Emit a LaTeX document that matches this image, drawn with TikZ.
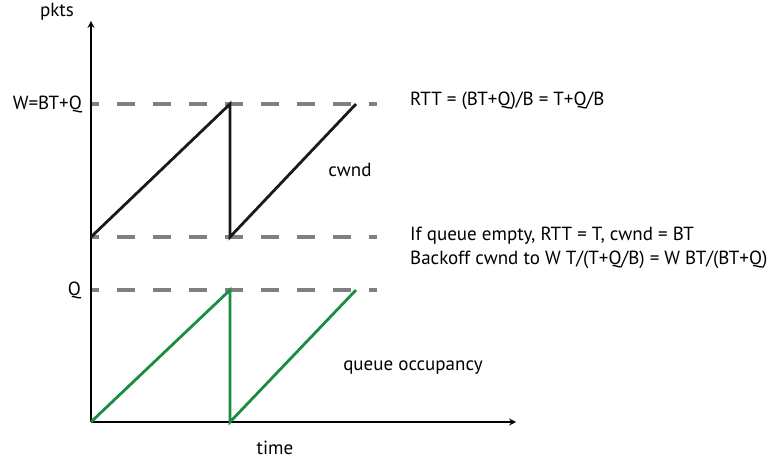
\documentclass[tikz,border=0pt]{standalone}
\usepackage{fontspec}
\setmainfont{PT Sans}
\definecolor{qgreen}{RGB}{28,140,68}
\begin{document}
\begin{tikzpicture}[x=1pt, y=1pt, >=stealth,
		lbl/.style={font=\fontsize{19}{22}\selectfont, inner sep=0pt},
		level/.style={gray, line width=3.2pt, dash pattern=on 18pt off 18pt, dash phase=10pt},
		win/.style={black!90, line width=2.8pt},
		que/.style={qgreen, line width=2.8pt}]
			\useasboundingbox (0,0) rectangle (780,461);
			\coordinate (o) at (91,39);
			\coordinate (ytop) at (91,440);
			\coordinate (xend) at (516,39);
			\foreach \n/\y in {w/357, b/224, q/171}
				{
					\coordinate (\n0) at (91,\y);
					\coordinate (\n1) at (377,\y);
					\draw[level] (\n0) -- (\n1);
				}
			\draw[->, line width=2pt] (o) -- (ytop);
			\draw[->, line width=2pt] (o) -- (xend);
			\coordinate (c1) at (230,357);
			\coordinate (c2) at (230,224);
			\coordinate (c3) at (356,357);
			\draw[win] (b0) -- (c1) -- (c2) -- (c3);
			\coordinate (g1) at (230,171);
			\coordinate (g2) at (230,39);
			\coordinate (g3) at (356,171);
			\draw[que] (o) -- (g1) -- (g2) -- (g3);
			\node[lbl] (pkts) at (57,449) {pkts};
			\node[lbl, anchor=east] (wlab) at (82,357) {W=BT+Q};
			\node[lbl, anchor=east] (qlab) at (81,171) {Q};
			\node[lbl] (time) at (275,13) {time};
			\node[lbl] (cwnd) at (350,291) {cwnd};
			\node[lbl] (occ) at (413,93) {queue occupancy};
			\node[lbl, anchor=west] (rtt) at (410,360) {RTT = (BT+Q)/B = T+Q/B};
			\node[lbl, anchor=west] (empty) at (410,225) {If queue empty, RTT = T, cwnd = BT};
			\node[lbl, anchor=west] (back) at (410,201) {Backoff cwnd to W T/(T+Q/B) = W BT/(BT+Q)};
		\end{tikzpicture}
\end{document}
